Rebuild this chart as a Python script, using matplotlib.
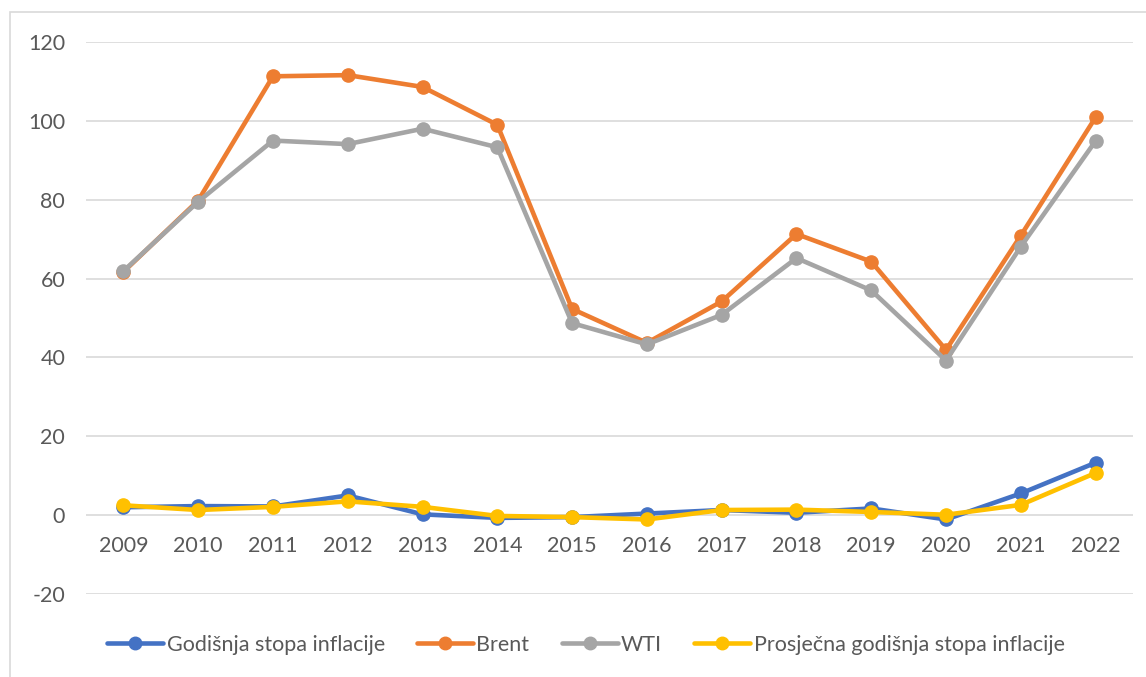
import matplotlib.pyplot as plt
from matplotlib.patches import Rectangle

plt.rcParams['font.family'] = ['Lato', 'DejaVu Sans']
plt.rcParams['axes.unicode_minus'] = False

# podaci
years = ['2009', '2010', '2011', '2012', '2013', '2014', '2015',
         '2016', '2017', '2018', '2019', '2020', '2021', '2022']
inflacija = [2.0, 2.3, 2.2, 5.0, 0.2, -0.7, -0.5, 0.4, 1.3, 0.6, 1.7, -1.1, 5.5, 13.3]
brent = [61.7, 79.8, 111.3, 111.6, 108.6, 99.0, 52.3, 43.7, 54.2, 71.3, 64.3, 41.9, 70.9, 100.9]
wti = [61.9, 79.5, 95.0, 94.1, 98.0, 93.3, 48.7, 43.3, 50.8, 65.2, 57.0, 39.2, 68.1, 94.9]
prosjek = [2.5, 1.3, 2.1, 3.5, 2.1, -0.2, -0.5, -1.1, 1.3, 1.4, 0.8, 0.1, 2.6, 10.7]

series = [
    ('Godišnja stopa inflacije', inflacija, '#4472c4'),
    ('Brent', brent, '#ed7d31'),
    ('WTI', wti, '#a5a5a5'),
    ('Prosječna godišnja stopa inflacije', prosjek, '#ffc000'),
]

fig = plt.figure(figsize=(11.46, 6.77), dpi=100)
ax = fig.add_axes([86 / 1146, 1 - 594 / 677, (1133 - 86) / 1146, (594 - 42) / 677])

# okvir grafikona
fig.patches.append(Rectangle((10 / 1146, -0.1), 1.2, 1 - 12 / 677 + 0.1,
                             transform=fig.transFigure, fill=False,
                             edgecolor='#d9d9d9', lw=1.2))

x = list(range(len(years)))
for name, vals, col in series:
    ax.plot(x, vals, color=col, lw=3.3, marker='o', markersize=9.5,
            label=name, solid_capstyle='round')

ax.set_xlim(-0.5, len(years) - 0.5)
ax.set_ylim(-20, 120)
ax.set_yticks(range(-20, 121, 20))
for v in range(-20, 121, 20):
    ax.axhline(v, color='#d9d9d9', lw=1.2, zorder=0)

for s in ax.spines.values():
    s.set_visible(False)
ax.set_xticks([])
ax.tick_params(axis='y', length=0, pad=15, labelsize=15.5, labelcolor='#595959')

# oznake godina ispod nulte linije
for i, y in enumerate(years):
    ax.text(i, -7.8, y, ha='center', va='center', fontsize=15.5, color='#595959')

# legenda centrirana u okviru grafikona, ne u području crtanja
leg = ax.legend(loc='center', bbox_to_anchor=((586 - 86) / 1047, -0.092), ncol=4,
                frameon=False, fontsize=15.5, handlelength=2.6,
                handletextpad=0.15, columnspacing=1.5)
for t in leg.get_texts():
    t.set_color('#595959')
for h in leg.get_lines():
    h.set_markersize(9)

fig.savefig('out.png', dpi=100)
